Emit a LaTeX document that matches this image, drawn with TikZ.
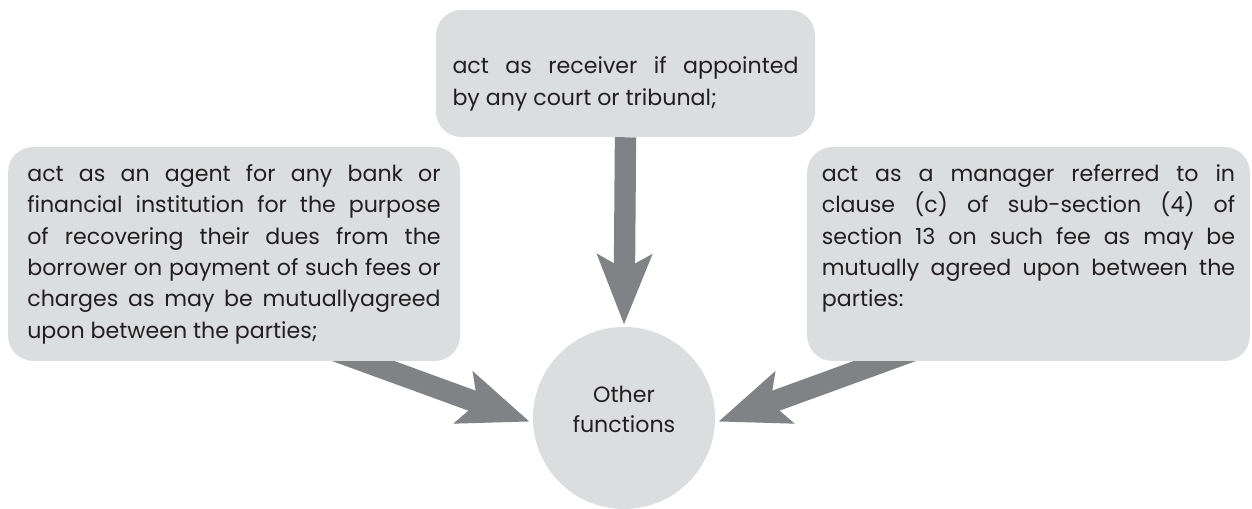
\documentclass[tikz,border=0pt]{standalone}
\usepackage{fontspec}
\setmainfont{Poppins}
\usepackage{xcolor}
\usetikzlibrary{arrows.meta, backgrounds, calc}

\definecolor{boxgray}{HTML}{DCDDDE}
\definecolor{arrowgray}{HTML}{808285}
\definecolor{textdark}{HTML}{231F20}

\begin{document}
\begin{tikzpicture}[x=0.75pt, y=0.75pt,
    panel/.style={fill=boxgray, rounded corners=19pt, text=textdark,
        align=justify, inner xsep=0pt, inner ysep=0pt,
        font=\fontsize{16.6}{23.5}\selectfont},
    sidepanel/.style={panel, text width=310pt, text height=26pt, text depth=134.5pt},
    bigarrow/.style={arrowgray, line width=16pt, shorten >=2.5pt,
        -{Stealth[length=52pt, width=40pt, inset=10.5pt]}}]

    % =================================================================
    % 1. KHUNG VẼ
    % =================================================================
    \useasboundingbox (0,0) rectangle (1252,509);

    % =================================================================
    % 2. CÁC Ô CHỨC NĂNG
    % =================================================================
    \node[panel, text width=259.5pt, text height=48pt, text depth=47.25pt,
        minimum width=284.25pt] (recv) at (625.5,435.5)
        {act as receiver if appointed\linebreak by any court or tribunal;};

    \node[sidepanel, minimum width=339pt] (agent) at (234,255)
        {act as an agent for any bank or\linebreak financial institution for the purpose\linebreak
         of recovering their dues from the\linebreak borrower on payment of such fees or\linebreak
         charges as may be mutuallyagreed\linebreak upon between the parties;};

    \node[sidepanel, minimum width=332pt] (mgr) at (1028.5,255)
        {act as a manager referred to in\linebreak clause (c) of sub-section (4) of\linebreak
         section 13 on such fee as may be\linebreak mutually agreed upon between the\linebreak parties:};

    % Vòng tròn ở giữa
    \node[circle, fill=boxgray, minimum size=136.5pt, inner sep=0pt, align=center,
        text=textdark, font=\fontsize{16.6}{22.5}\selectfont] (other) at (624,91)
        {Other\\functions\\[-9pt]};

    % =================================================================
    % 3. CÁC MŨI TÊN (nằm dưới các ô)
    % =================================================================
    \coordinate (agentfoot) at ($(other.183)+(160:230)$);
    \coordinate (mgrfoot) at ($(other.-3)+(20:230)$);

    \begin{scope}[on background layer]
        \draw[bigarrow, shorten >=1.5pt] (recv.south) -- (other.north);
        \draw[bigarrow] (agentfoot) -- (other.183);
        \draw[bigarrow] (mgrfoot) -- (other.-3);
    \end{scope}

\end{tikzpicture}
\end{document}
